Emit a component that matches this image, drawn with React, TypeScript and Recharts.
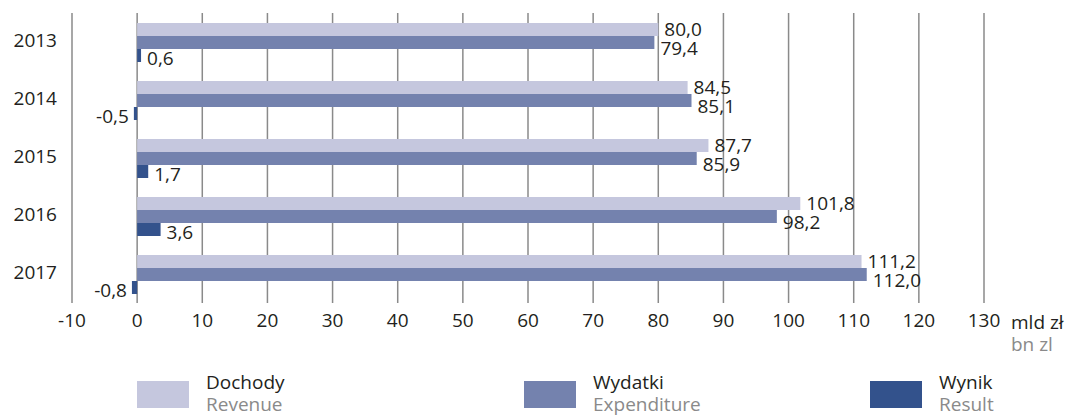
import { Bar, BarChart, CartesianGrid, LabelList, XAxis, YAxis } from 'recharts'

const years = ['2013', '2014', '2015', '2016', '2017']
const revenue = [80.0, 84.5, 87.7, 101.8, 111.2]
const expenditure = [79.4, 85.1, 85.9, 98.2, 112.0]
const result = [0.6, -0.5, 1.7, 3.6, -0.8]
const xTicks = [-10, 0, 10, 20, 30, 40, 50, 60, 70, 80, 90, 100, 110, 120, 130]

const FONT = '"Open Sans", sans-serif'
const TEXT = '#231f20'
const GREY = '#8a8a8a'
const FS = 19

const SERIES = [
  { key: 'revenue', pl: 'Dochody', en: 'Revenue', color: '#c5c7de', dy: -1, legendX: 137 },
  { key: 'expenditure', pl: 'Wydatki', en: 'Expenditure', color: '#7482ae', dy: 5, legendX: 524 },
  { key: 'result', pl: 'Wynik', en: 'Result', color: '#33528c', dy: 2, legendX: 870 },
]

const fmt = (v: number) => v.toFixed(1).replace('.', ',')

const makeLabel = (dy: number) => (props: any) => {
  const { x, y, width, height, value } = props
  const left = Math.min(x, x + width)
  const right = Math.max(x, x + width)
  const neg = value < 0
  return (
    <text
      x={neg ? left - 5 : right + 6}
      y={y + height / 2 + dy}
      textAnchor={neg ? 'end' : 'start'}
      dominantBaseline="central"
      fill={TEXT}
      fontSize={FS}
      fontFamily={FONT}
    >
      {fmt(value)}
    </text>
  )
}

export default function App() {
  const data = years.map((year, i) => ({
    year,
    revenue: revenue[i],
    expenditure: expenditure[i],
    result: result[i],
  }))

  return (
    <div
      style={{
        position: 'absolute',
        left: 0,
        top: 0,
        width: 1067,
        height: 415,
        background: '#fff',
        fontFamily: FONT,
      }}
    >
      <BarChart
        width={1067}
        height={415}
        data={data}
        layout="vertical"
        margin={{ top: 13, right: 83, left: 0, bottom: 72 }}
        barGap={0}
        barSize={13}
      >
        <CartesianGrid horizontal={false} stroke={GREY} strokeWidth={1.5} />
        <XAxis
          type="number"
          domain={[-10, 130]}
          ticks={xTicks}
          interval={0}
          axisLine={false}
          tickLine={false}
          height={40}
          tickMargin={5}
          tick={{ fill: TEXT, fontSize: FS, fontFamily: FONT }}
        />
        <YAxis
          type="category"
          dataKey="year"
          width={72}
          axisLine={false}
          tickLine={false}
          tickMargin={9}
          tick={{ fill: TEXT, fontSize: FS, fontFamily: FONT, dy: -2 }}
        />
        {SERIES.map((s) => (
          <Bar key={s.key} dataKey={s.key} fill={s.color} isAnimationActive={false}>
            <LabelList dataKey={s.key} content={makeLabel(s.dy)} />
          </Bar>
        ))}
      </BarChart>

      <div style={{ position: 'absolute', left: 1011, top: 311, fontSize: FS, color: TEXT, lineHeight: '22px' }}>
        mld zł
        <div style={{ color: GREY }}>bn zl</div>
      </div>

      {SERIES.map((s) => (
        <div key={s.key}>
          <div
            style={{
              position: 'absolute',
              left: s.legendX,
              top: 381,
              width: 52,
              height: 27,
              background: s.color,
            }}
          />
          <div
            style={{
              position: 'absolute',
              left: s.legendX + 69,
              top: 371,
              fontSize: FS,
              lineHeight: '22px',
              color: TEXT,
            }}
          >
            {s.pl}
            <div style={{ color: GREY }}>{s.en}</div>
          </div>
        </div>
      ))}
    </div>
  )
}
